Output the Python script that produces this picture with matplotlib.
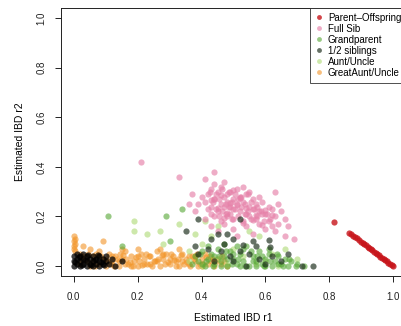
import matplotlib
matplotlib.use('Agg')
import matplotlib.pyplot as plt

plt.rcParams['font.family'] = ['Liberation Sans', 'DejaVu Sans']

####################### DATA: estimated IBD (r1, r2) per relationship #######################
po_r1 = [0.816, 0.862, 0.868, 0.875, 0.880, 0.886, 0.893, 0.900, 0.905, 0.910, 0.915,
         0.920, 0.925, 0.930, 0.935, 0.940, 0.945, 0.950, 0.955, 0.960, 0.965, 0.970,
         0.975, 0.980, 0.985, 0.990, 0.995, 1.000]
po_r2 = [0.178, 0.135, 0.128, 0.122, 0.118, 0.112, 0.105, 0.098, 0.094, 0.088, 0.084,
         0.078, 0.074, 0.068, 0.064, 0.058, 0.054, 0.048, 0.044, 0.038, 0.034, 0.029,
         0.024, 0.019, 0.014, 0.009, 0.004, 0.000]

fs_r1 = [0.21, 0.33, 0.36, 0.37, 0.44,
         0.41, 0.43, 0.44, 0.46, 0.47, 0.49, 0.51, 0.53, 0.55,
         0.40, 0.42, 0.44, 0.45, 0.47, 0.48, 0.50, 0.52, 0.54, 0.56, 0.58, 0.63,
         0.39, 0.41, 0.43, 0.44, 0.46, 0.48, 0.49, 0.51, 0.53, 0.55, 0.57, 0.59, 0.61, 0.64,
         0.38, 0.42, 0.43, 0.45, 0.47, 0.49, 0.50, 0.52, 0.54, 0.56, 0.58, 0.60, 0.62, 0.65,
         0.41, 0.44, 0.46, 0.48, 0.50, 0.53, 0.55, 0.57, 0.59, 0.61, 0.63, 0.66,
         0.43, 0.47, 0.50, 0.54, 0.58, 0.60, 0.62, 0.64, 0.67,
         0.45, 0.51, 0.56, 0.63, 0.66, 0.69,
         0.425, 0.445, 0.465, 0.485, 0.505, 0.525, 0.545, 0.435, 0.455, 0.475, 0.495,
         0.515, 0.535, 0.555, 0.575, 0.445, 0.465, 0.485, 0.505, 0.525, 0.545, 0.565,
         0.585, 0.605, 0.455, 0.475, 0.495, 0.515, 0.535, 0.555, 0.575, 0.595, 0.615,
         0.43, 0.46, 0.49, 0.52, 0.45, 0.48, 0.51, 0.57, 0.60, 0.47, 0.53, 0.56, 0.59,
         0.62, 0.50, 0.54]
fs_r2 = [0.42, 0.36, 0.25, 0.29, 0.38,
         0.35, 0.31, 0.33, 0.32, 0.34, 0.30, 0.31, 0.32, 0.30,
         0.28, 0.29, 0.27, 0.30, 0.28, 0.29, 0.27, 0.28, 0.29, 0.27, 0.28, 0.30,
         0.25, 0.26, 0.24, 0.27, 0.25, 0.26, 0.24, 0.25, 0.26, 0.24, 0.25, 0.26, 0.24, 0.25,
         0.22, 0.23, 0.21, 0.22, 0.24, 0.21, 0.23, 0.22, 0.21, 0.23, 0.22, 0.21, 0.23, 0.22,
         0.19, 0.20, 0.18, 0.20, 0.19, 0.18, 0.20, 0.19, 0.21, 0.18, 0.20, 0.19,
         0.16, 0.17, 0.15, 0.16, 0.17, 0.15, 0.16, 0.17, 0.16,
         0.14, 0.12, 0.13, 0.14, 0.12, 0.11,
         0.30, 0.29, 0.31, 0.30, 0.29, 0.28, 0.29, 0.26, 0.27, 0.25, 0.26,
         0.27, 0.25, 0.26, 0.24, 0.23, 0.22, 0.24, 0.23, 0.24, 0.22, 0.23,
         0.22, 0.21, 0.20, 0.21, 0.19, 0.20, 0.21, 0.19, 0.20, 0.18, 0.19,
         0.265, 0.285, 0.255, 0.275, 0.235, 0.215, 0.245, 0.205, 0.225, 0.195, 0.175,
         0.185, 0.165, 0.205, 0.305, 0.235]

gp_r1 = [0.37, 0.38, 0.39, 0.40, 0.41, 0.42, 0.43, 0.44, 0.45, 0.46, 0.47, 0.48, 0.49,
         0.50, 0.51, 0.52, 0.53, 0.54, 0.55, 0.56, 0.57, 0.58, 0.59, 0.60, 0.61, 0.62,
         0.63, 0.64, 0.65, 0.66, 0.67, 0.68, 0.70, 0.72,
         0.395, 0.415, 0.435, 0.455, 0.475, 0.495, 0.515, 0.535, 0.555, 0.575, 0.595,
         0.615, 0.635, 0.655, 0.675, 0.695,
         0.42, 0.46, 0.50, 0.53, 0.57, 0.61, 0.48, 0.44, 0.52, 0.56, 0.60, 0.64, 0.40,
         0.47, 0.51, 0.59,
         0.106, 0.15, 0.29, 0.30, 0.34]
gp_r2 = [0.01, 0.04, 0.02, 0.06, 0.00, 0.03, 0.05, 0.01, 0.07, 0.02, 0.04, 0.00, 0.06,
         0.03, 0.01, 0.05, 0.02, 0.08, 0.00, 0.04, 0.02, 0.06, 0.01, 0.03, 0.05, 0.00,
         0.02, 0.04, 0.01, 0.03, 0.00, 0.02, 0.01, 0.00,
         0.05, 0.02, 0.00, 0.04, 0.06, 0.01, 0.03, 0.00, 0.06, 0.04, 0.00,
         0.02, 0.05, 0.00, 0.03, 0.00,
         0.08, 0.00, 0.05, 0.07, 0.00, 0.07, 0.03, 0.04, 0.00, 0.02, 0.00, 0.01, 0.01,
         0.09, 0.08, 0.04,
         0.20, 0.08, 0.20, 0.10, 0.23]

hs_r1 = [0.39, 0.35, 0.43, 0.45, 0.50, 0.52, 0.53, 0.61, 0.39, 0.715, 0.75, 0.67, 0.615,
         0.47, 0.46, 0.55, 0.58, 0.44, 0.50, 0.54, 0.57, 0.62, 0.48, 0.42, 0.60, 0.52,
         0.65, 0.49, 0.56, 0.38]
hs_r2 = [0.19, 0.14, 0.11, 0.13, 0.11, 0.19, 0.085, 0.105, 0.05, 0.00, 0.00, 0.05, 0.075,
         0.09, 0.06, 0.05, 0.03, 0.02, 0.02, 0.00, 0.08, 0.04, 0.13, 0.07, 0.01, 0.06,
         0.02, 0.04, 0.10, 0.08]

au_r1 = [0.19, 0.19, 0.23, 0.27, 0.33, 0.28, 0.36, 0.40, 0.43, 0.38, 0.41, 0.45, 0.55,
         0.50, 0.58, 0.62, 0.45, 0.53, 0.60, 0.66, 0.40, 0.48, 0.57, 0.64, 0.70, 0.36]
au_r2 = [0.18, 0.14, 0.13, 0.14, 0.17, 0.09, 0.06, 0.09, 0.12, 0.13, 0.18, 0.16, 0.14,
         0.07, 0.12, 0.05, 0.03, 0.04, 0.02, 0.07, 0.00, 0.01, 0.01, 0.00, 0.03, 0.02]

ga_r1 = [0.000, 0.005, 0.000, 0.005, 0.000, 0.000, 0.005,
         0.02, 0.03, 0.05, 0.06, 0.07, 0.08, 0.09, 0.10, 0.11, 0.12, 0.13, 0.14, 0.15,
         0.16, 0.17, 0.18, 0.19, 0.20, 0.21, 0.22, 0.23, 0.24, 0.25, 0.26, 0.27, 0.28,
         0.29, 0.30, 0.31, 0.32, 0.33, 0.34, 0.35, 0.36, 0.37, 0.38, 0.39, 0.40, 0.41,
         0.42, 0.43, 0.44, 0.45, 0.46, 0.47, 0.48,
         0.025, 0.045, 0.065, 0.085, 0.105, 0.125, 0.145, 0.165, 0.185, 0.205, 0.225,
         0.245, 0.265, 0.285, 0.305, 0.325, 0.345, 0.365, 0.385, 0.405, 0.425, 0.445, 0.465,
         0.04, 0.08, 0.12, 0.16, 0.20, 0.24, 0.28, 0.32, 0.36, 0.40, 0.14, 0.18, 0.22,
         0.26, 0.30, 0.34, 0.38, 0.10, 0.06, 0.02,
         0.09, 0.05, 0.15, 0.03, 0.33, 0.27, 0.20,
         0.115, 0.135, 0.155, 0.175, 0.195, 0.215, 0.235, 0.255, 0.275, 0.295, 0.315,
         0.335, 0.355, 0.375, 0.395, 0.415, 0.435]
ga_r2 = [0.12, 0.11, 0.10, 0.09, 0.08, 0.07, 0.06,
         0.01, 0.04, 0.00, 0.02, 0.05, 0.01, 0.03, 0.00, 0.05, 0.02, 0.04, 0.00, 0.03,
         0.06, 0.01, 0.04, 0.02, 0.00, 0.05, 0.03, 0.01, 0.04, 0.02, 0.06, 0.00, 0.03,
         0.05, 0.01, 0.04, 0.02, 0.00, 0.05, 0.03, 0.01, 0.04, 0.02, 0.00, 0.03, 0.05,
         0.01, 0.02, 0.00, 0.03, 0.01, 0.02, 0.00,
         0.03, 0.05, 0.00, 0.04, 0.02, 0.00, 0.05, 0.03, 0.00, 0.02, 0.05,
         0.00, 0.03, 0.01, 0.05, 0.03, 0.01, 0.00, 0.05, 0.01, 0.04, 0.02, 0.04,
         0.02, 0.06, 0.04, 0.01, 0.04, 0.01, 0.05, 0.00, 0.04, 0.00, 0.02, 0.00, 0.01,
         0.02, 0.03, 0.02, 0.04, 0.03, 0.04, 0.05,
         0.10, 0.07, 0.07, 0.08, 0.07, 0.07, 0.07,
         0.01, 0.03, 0.045, 0.015, 0.035, 0.005, 0.04, 0.02, 0.045, 0.015, 0.025,
         0.045, 0.015, 0.03, 0.01, 0.035, 0.03]

# unrelated pairs, not listed in the legend
un_r1 = [0.00, 0.00, 0.00, 0.01, 0.01, 0.01, 0.02, 0.02, 0.02, 0.03, 0.03, 0.03, 0.04,
         0.04, 0.04, 0.05, 0.05, 0.06, 0.06, 0.06, 0.07, 0.07, 0.08, 0.08, 0.08, 0.09,
         0.09, 0.10, 0.10, 0.11, 0.005, 0.015, 0.025, 0.035, 0.045, 0.055, 0.065, 0.075,
         0.085, 0.095, 0.12, 0.13, 0.15]
un_r2 = [0.00, 0.02, 0.04, 0.01, 0.03, 0.05, 0.00, 0.02, 0.04, 0.01, 0.03, 0.05, 0.00,
         0.02, 0.04, 0.01, 0.03, 0.00, 0.02, 0.04, 0.01, 0.03, 0.00, 0.02, 0.04, 0.01,
         0.03, 0.02, 0.04, 0.01, 0.015, 0.035, 0.005, 0.025, 0.045, 0.005, 0.025, 0.045,
         0.015, 0.005, 0.03, 0.00, 0.02]

col_po = (0.78, 0.08, 0.10, 0.8)
col_fs = (0.90, 0.50, 0.66, 0.65)
col_gp = (0.33, 0.65, 0.20, 0.6)
col_hs = (0.08, 0.15, 0.08, 0.65)
col_au = (0.68, 0.85, 0.45, 0.6)
col_ga = (0.95, 0.58, 0.15, 0.6)
col_un = (0.0, 0.0, 0.0, 0.75)
#####################################################################

fig = plt.figure(figsize=(4.01, 3.26), dpi=100)
ax = fig.add_axes([61/401, 50/326, 345/401, 268/326])

ms = 20
ax.scatter(ga_r1, ga_r2, s=ms, color=col_ga, lw=0)
ax.scatter(un_r1, un_r2, s=ms, color=col_un, lw=0)
ax.scatter(au_r1, au_r2, s=ms, color=col_au, lw=0)
ax.scatter(gp_r1, gp_r2, s=ms, color=col_gp, lw=0)
ax.scatter(fs_r1, fs_r2, s=ms, color=col_fs, lw=0)
ax.scatter(hs_r1, hs_r2, s=ms, color=col_hs, lw=0)
ax.scatter(po_r1, po_r2, s=ms, color=col_po, lw=0)

ax.set_xlim(-0.04, 1.04)
ax.set_ylim(-0.04, 1.04)
ax.set_xticks([0.0, 0.2, 0.4, 0.6, 0.8, 1.0])
ax.set_yticks([0.0, 0.2, 0.4, 0.6, 0.8, 1.0])
ax.set_xticklabels(['0.0', '0.2', '0.4', '0.6', '0.8', '1.0'])
ax.set_yticklabels(['0.0', '0.2', '0.4', '0.6', '0.8', '1.0'], rotation=90, va='center')
ax.tick_params(direction='out', length=4.5, width=0.7, labelsize=7, pad=7,
               colors='#222222')
ax.tick_params(axis='y', pad=6)
for sp in ax.spines.values():
    sp.set_linewidth(0.7)
    sp.set_color('#222222')
ax.set_xlabel('Estimated IBD r1', fontsize=7.5, labelpad=8)
ax.set_ylabel('Estimated IBD r2', fontsize=7.5, labelpad=8)

labels = ['Parent\u2013Offspring', 'Full Sib', 'Grandparent', '1/2 siblings',
          'Aunt/Uncle', 'GreatAunt/Uncle']
colors = [col_po, col_fs, col_gp, col_hs, col_au, col_ga]
handles = [plt.Line2D([], [], ls='', marker='o', ms=3.5, mew=0, color=c) for c in colors]
leg = ax.legend(handles, labels, loc='upper right', fontsize=7, frameon=True,
                fancybox=False, borderaxespad=0, handlelength=0.8, handletextpad=0.5,
                labelspacing=0.1, borderpad=0.5)
leg.get_frame().set_edgecolor('#222222')
leg.get_frame().set_linewidth(0.7)

plt.savefig('out.png', dpi=100)
